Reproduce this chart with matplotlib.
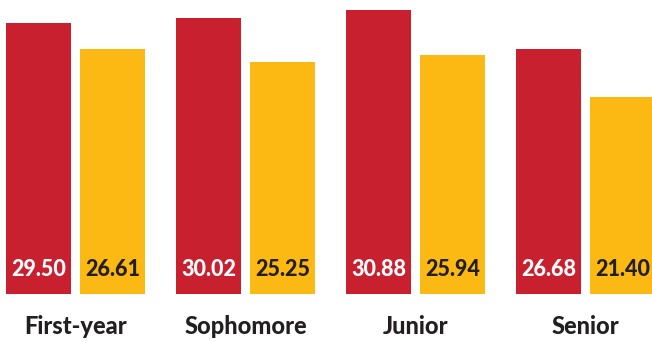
import matplotlib.pyplot as plt
import numpy as np

categories = ['First-year', 'Sophomore', 'Junior', 'Senior']
red_values = [29.50, 30.02, 30.88, 26.68]
yellow_values = [26.61, 25.25, 25.94, 21.40]

RED = '#C8202F'
YELLOW = '#FDB913'
DARK = '#231F20'

plt.rcParams['font.family'] = ['Lato', 'DejaVu Sans']

fig = plt.figure(figsize=(6.52, 3.43), dpi=100)
ax = fig.add_axes([0, 0, 1, 1])

# pixel-like x units, 9.2 px per data unit on y
px_per_unit = 9.2
x = np.arange(len(categories)) * 170
red_x = x + 38.5
yel_x = x + 112.5
ax.bar(red_x, red_values, width=65, color=RED)
ax.bar(yel_x, yellow_values, width=65, color=YELLOW)

for xr, v in zip(red_x, red_values):
    ax.text(xr, 24 / px_per_unit, f'{v:.2f}', ha='center', va='center',
            color='white', fontsize=15.5, fontweight='black')
for xy, v in zip(yel_x, yellow_values):
    ax.text(xy, 24 / px_per_unit, f'{v:.2f}', ha='center', va='center',
            color=DARK, fontsize=15.5, fontweight='black')

for xc, name in zip(x + 75.5, categories):
    ax.text(xc, -33 / px_per_unit, name, ha='center', va='center',
            color=DARK, fontsize=17, fontweight='black')

ax.set_xlim(0, 652)
ax.set_ylim(-49 / px_per_unit, 294 / px_per_unit)
ax.axis('off')

plt.savefig('out.png', dpi=100)
